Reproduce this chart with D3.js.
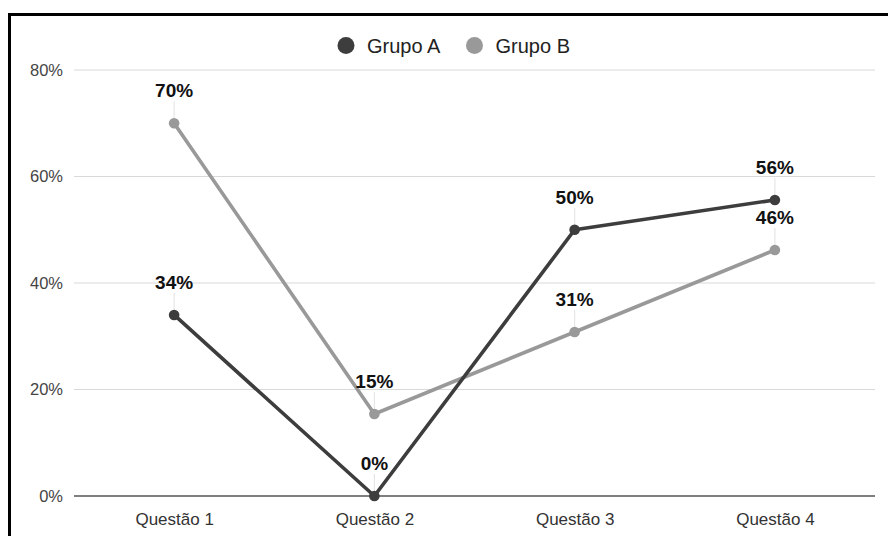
<!DOCTYPE html>
<html>
<head>
<meta charset="utf-8">
<script src="https://cdn.jsdelivr.net/npm/d3@7"></script>
<style>
  html, body { margin: 0; padding: 0; background: #fff; }
  svg { display: block; font-family: "Liberation Sans", Arial, sans-serif; }
</style>
</head>
<body>
<svg id="chart" width="888" height="536"></svg>
<script>
// Survey results per question, as shares of respondents
const questions = ["Questão 1", "Questão 2", "Questão 3", "Questão 4"];
const grupoA = [0.34, 0.0, 0.50, 0.556];
const grupoB = [0.70, 0.154, 0.308, 0.462];
const seriesNames = ["Grupo A", "Grupo B"];
const seriesColors = ["#3d3d3d", "#999999"];
const yTicks = [0, 0.2, 0.4, 0.6, 0.8];

const svg = d3.select("#chart");
const W = 888, H = 536;
const plot = { left: 74, right: 875, top: 70, bottom: 496 };
const FONT = "'Liberation Sans', Arial, sans-serif";

// frame
svg.append("rect")
  .attr("x", 9.5).attr("y", 14.5)
  .attr("width", W + 20).attr("height", H + 20)
  .attr("fill", "none").attr("stroke", "#000").attr("stroke-width", 3);

const x = d3.scalePoint().domain(questions).range([plot.left, plot.right]).padding(0.5);
const y = d3.scaleLinear().domain([0, 0.8]).range([plot.bottom, plot.top]);
const pct = d3.format(".0%");

// horizontal grid
svg.append("g")
  .selectAll("line")
  .data(yTicks.filter(d => d > 0))
  .join("line")
  .attr("x1", plot.left).attr("x2", plot.right)
  .attr("y1", d => y(d)).attr("y2", d => y(d))
  .attr("stroke", "#d9d9d9").attr("stroke-width", 1.2);

// y axis labels
const yAxis = d3.axisLeft(y).tickValues(yTicks).tickFormat(pct).tickSize(0).tickPadding(11);
const gy = svg.append("g").attr("transform", `translate(${plot.left},0)`).call(yAxis);
gy.select(".domain").remove();
gy.attr("font-size", null).attr("font-family", null);
gy.selectAll("text").attr("fill", "#444").style("font-size", "16.5px").style("font-family", FONT);

// x axis labels
const xAxis = d3.axisBottom(x).tickSize(0).tickPadding(17);
const gx = svg.append("g").attr("transform", `translate(0,${plot.bottom})`).call(xAxis);
gx.select(".domain").remove();
gx.attr("font-size", null).attr("font-family", null);
gx.selectAll("text").attr("fill", "#333").style("font-size", "17px").style("font-family", FONT);

const series = [grupoA, grupoB].map((vals, i) => ({
  name: seriesNames[i],
  color: seriesColors[i],
  points: vals.map((v, j) => ({ q: questions[j], v }))
}));

// leader lines from each point to its value label
const leaders = svg.append("g");
series.forEach(s => {
  leaders.selectAll(null)
    .data(s.points)
    .join("line")
    .attr("x1", d => x(d.q)).attr("x2", d => x(d.q))
    .attr("y1", d => y(d.v) - 5).attr("y2", d => y(d.v) - 22)
    .attr("stroke", "#e6e6e6").attr("stroke-width", 1.2);
});

// baseline
svg.append("line")
  .attr("x1", plot.left).attr("x2", plot.right)
  .attr("y1", y(0)).attr("y2", y(0))
  .attr("stroke", "#555").attr("stroke-width", 1.5);

const line = d3.line().x(d => x(d.q)).y(d => y(d.v));

// series B drawn first, A on top
[series[1], series[0]].forEach(s => {
  const g = svg.append("g");
  g.append("path")
    .datum(s.points)
    .attr("d", line)
    .attr("fill", "none")
    .attr("stroke", s.color)
    .attr("stroke-width", 3.6)
    .attr("stroke-linejoin", "round");
  g.selectAll("circle")
    .data(s.points)
    .join("circle")
    .attr("cx", d => x(d.q)).attr("cy", d => y(d.v))
    .attr("r", 5.3)
    .attr("fill", s.color);
});

// value labels
series.forEach(s => {
  svg.append("g").selectAll("text")
    .data(s.points)
    .join("text")
    .attr("x", d => x(d.q))
    .attr("y", d => y(d.v) - 26)
    .attr("text-anchor", "middle")
    .attr("font-family", FONT)
    .attr("font-weight", "bold")
    .attr("font-size", 19)
    .attr("fill", "#111")
    .text(d => pct(d.v));
});

// legend
const legend = svg.append("g");
const legendItems = [
  { name: seriesNames[0], color: seriesColors[0], cx: 346 },
  { name: seriesNames[1], color: seriesColors[1], cx: 474.5 }
];
legendItems.forEach(it => {
  legend.append("circle").attr("cx", it.cx).attr("cy", 45.5).attr("r", 8.5).attr("fill", it.color);
  legend.append("text")
    .attr("x", it.cx + 21).attr("y", 52.5)
    .attr("font-family", FONT)
    .attr("font-size", 20)
    .attr("fill", "#222")
    .text(it.name);
});
</script>
</body>
</html>
